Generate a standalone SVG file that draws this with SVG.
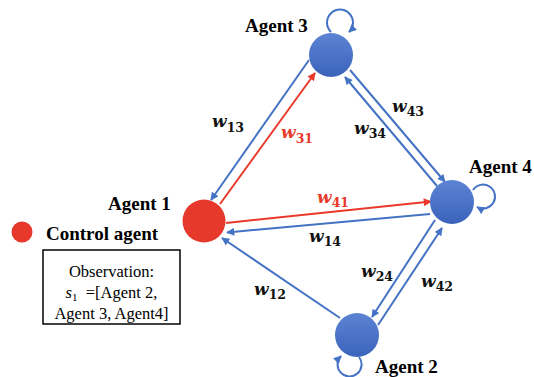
<svg xmlns="http://www.w3.org/2000/svg" width="534" height="377" viewBox="0 0 534 377">
  <defs>
    <linearGradient id="agentFill" x1="0" y1="0" x2="0" y2="1">
      <stop offset="0" stop-color="#5c83d3"/>
      <stop offset="1" stop-color="#3b63bb"/>
    </linearGradient>
    <marker id="arrowBlue" viewBox="0 0 10 10" refX="9" refY="5" markerWidth="9" markerHeight="8" markerUnits="userSpaceOnUse" orient="auto">
      <path d="M0,0 L10,5 L0,10 z" fill="#4472c4"/>
    </marker>
    <marker id="arrowRed" viewBox="0 0 10 10" refX="9" refY="5" markerWidth="9" markerHeight="8" markerUnits="userSpaceOnUse" orient="auto">
      <path d="M0,0 L10,5 L0,10 z" fill="#e8392b"/>
    </marker>
  </defs>
  <style>
    .edge { fill: none; stroke: #4472c4; stroke-width: 2; marker-end: url(#arrowBlue); }
    .edge.red { stroke: #e8392b; marker-end: url(#arrowRed); }
    .agent { fill: url(#agentFill); }
    .control { fill: #e6392b; }
    .name { font-family: "Liberation Serif", "Times New Roman", serif; font-weight: bold; font-size: 19px; fill: #000; }
    .w { font-family: "DejaVu Serif", serif; font-weight: bold; font-style: italic; font-size: 17px; fill: #111; }
    .w.red { fill: #e8392b; }
    .sub { font-style: normal; font-size: 12.5px; }
    .obs { font-family: "Liberation Serif", "Times New Roman", serif; font-size: 16.5px; fill: #000; text-anchor: middle; }
  </style>
  <rect width="534" height="377" fill="#ffffff"/>

  <g id="connectors">
    <!-- Agent 1 <-> Agent 3 -->
    <line class="edge" x1="309" y1="60" x2="211" y2="200"/>
    <line class="edge red" x1="220" y1="204" x2="315" y2="73"/>
    <!-- Agent 3 <-> Agent 4 -->
    <line class="edge" x1="437" y1="186" x2="345" y2="77"/>
    <line class="edge" x1="350" y1="70" x2="445" y2="182"/>
    <!-- Agent 1 <-> Agent 4 -->
    <line class="edge red" x1="226" y1="223" x2="431" y2="201.5"/>
    <line class="edge" x1="430" y1="214" x2="227" y2="232.5"/>
    <!-- Agent 2 -> Agent 1 -->
    <line class="edge" x1="340" y1="318" x2="222" y2="238"/>
    <!-- Agent 2 <-> Agent 4 -->
    <line class="edge" x1="435" y1="220" x2="372" y2="317"/>
    <line class="edge" x1="378" y1="325" x2="442" y2="228"/>
    <!-- self loops -->
    <path class="edge" d="M331,32 A13,13 0 1 1 349,32"/>
    <path class="edge" d="M473,190 A12,12 0 1 1 477,207"/>
    <path class="edge" d="M359,357 A12,12 0 1 1 341,356"/>
  </g>

  <g id="agent1">
    <circle class="control" cx="204" cy="221" r="21.5"/>
    <text class="name" x="108" y="210">Agent 1</text>
  </g>
  <g id="agent2">
    <circle class="agent" cx="357" cy="335" r="22"/>
    <text class="name" x="375" y="373">Agent 2</text>
  </g>
  <g id="agent3">
    <circle class="agent" cx="331" cy="55" r="22"/>
    <text class="name" x="245" y="32">Agent 3</text>
  </g>
  <g id="agent4">
    <circle class="agent" cx="452" cy="202" r="22"/>
    <text class="name" x="469" y="173">Agent 4</text>
  </g>

  <g id="weights">
    <text class="w" x="212" y="127">w<tspan class="sub" dy="5">13</tspan></text>
    <text class="w red" x="281" y="138">w<tspan class="sub" dy="5">31</tspan></text>
    <text class="w" x="392" y="112">w<tspan class="sub" dy="4">43</tspan></text>
    <text class="w" x="354" y="134">w<tspan class="sub" dy="4">34</tspan></text>
    <text class="w red" x="317" y="203">w<tspan class="sub" dy="4">41</tspan></text>
    <text class="w" x="309" y="242">w<tspan class="sub" dy="4">14</tspan></text>
    <text class="w" x="254" y="295">w<tspan class="sub" dy="4">12</tspan></text>
    <text class="w" x="361" y="277">w<tspan class="sub" dy="4">24</tspan></text>
    <text class="w" x="421" y="287">w<tspan class="sub" dy="4">42</tspan></text>
  </g>

  <g id="legend">
    <circle class="control" cx="22" cy="232" r="10.5"/>
    <text class="name" x="46" y="240">Control agent</text>
  </g>

  <g id="observation">
    <rect x="43" y="250" width="137" height="74" fill="#ffffff" stroke="#000" stroke-width="1.5"/>
    <text class="obs" x="111.5" y="277">Observation:</text>
    <text class="obs" x="111.5" y="298"><tspan font-style="italic">s</tspan><tspan font-size="11" dy="3">1</tspan><tspan dy="-3" xml:space="preserve">  =[Agent 2,</tspan></text>
    <text class="obs" x="111.5" y="319">Agent 3, Agent4]</text>
  </g>
</svg>
